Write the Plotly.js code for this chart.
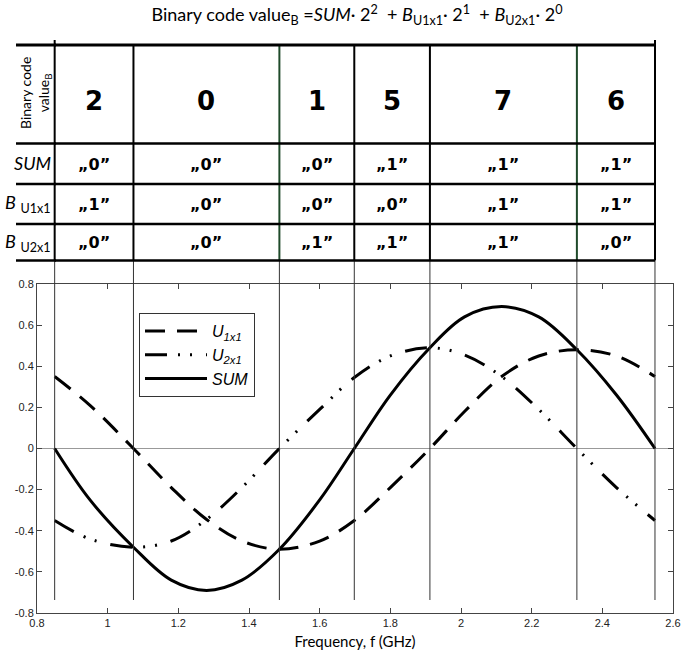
<!DOCTYPE html>
<html>
<head>
<meta charset="utf-8">
<script src="https://cdn.plot.ly/plotly-3.0.1.min.js"></script>
<style>html,body{margin:0;padding:0;background:#fff;}#chart{width:686px;height:655px;}</style>
</head>
<body>
<div id="chart"></div>
<script>
// ---- data ----
const freq = [0.85, 0.95, 1.073, 1.18, 1.28, 1.38, 1.486, 1.60, 1.698, 1.80, 1.912, 2.01, 2.115, 2.22, 2.328, 2.44, 2.549];
const u1x1 = [0.35, 0.21, 0.0, -0.19, -0.345, -0.45, -0.49, -0.45, -0.35, -0.19, 0.0, 0.18, 0.35, 0.45, 0.48, 0.45, 0.35];
const u2x1 = [-0.35, -0.44, -0.48, -0.45, -0.345, -0.19, 0.0, 0.19, 0.345, 0.45, 0.49, 0.455, 0.35, 0.19, 0.0, -0.19, -0.35];
const sumV = [0.0, -0.25, -0.48, -0.64, -0.69, -0.64, -0.49, -0.25, 0.0, 0.26, 0.49, 0.64, 0.69, 0.64, 0.48, 0.26, 0.0];

const boundaries = [0.85, 1.073, 1.486, 1.698, 1.912, 2.328, 2.549];
const greenBoundaries = [1.486, 2.328];
const codeValues = ['2', '0', '1', '5', '7', '6'];
const sumBits = ['0', '0', '0', '1', '1', '1'];
const u1Bits = ['1', '0', '0', '0', '1', '1'];
const u2Bits = ['0', '0', '1', '1', '1', '0'];
const rowLabels = ['<i>SUM</i>', '<i>B</i> <sub>U1x1</sub>', '<i>B</i> <sub>U2x1</sub>'];
const traceNames = ['<i>U</i><sub><i>1x1</i></sub>', '<i>U</i><sub><i>2x1</i></sub>', '<i>SUM</i>'];
const xTicks = [0.8, 1, 1.2, 1.4, 1.6, 1.8, 2, 2.2, 2.4, 2.6];
const xTickText = ['0.8', '1', '1.2', '1.4', '1.6', '1.8', '2', '2.2', '2.4', '2.6'];
const yTicks = [-0.8, -0.6, -0.4, -0.2, 0, 0.2, 0.4, 0.6, 0.8];
const yTickText = ['-0.8', '-0.6', '-0.4', '-0.2', '0', '0.2', '0.4', '0.6', '0.8'];

// ---- layout helpers (paper coordinates for the table) ----
const W = 686, H = 655;
const M = {l: 37, r: 13, t: 284, b: 42};
const plotH = H - M.t - M.b;
const plotW = W - M.l - M.r;
const py = Y => (H - M.b - Y) / plotH;   // pixel row -> paper y
const px = X => (X - M.l) / plotW;      // pixel col -> paper x

const tableTop = py(45), headBottom = py(143.5), sumBottom = py(184), u1Bottom = py(224), tableBottom = py(260.5);
const lineBottom = py(600);

const shapes = [];
boundaries.forEach((b, i) => {
  shapes.push({type: 'line', xref: 'x', yref: 'paper', x0: b, x1: b, y0: lineBottom, y1: tableBottom,
    line: {color: '#333', width: 1}});
  const outer = (i === 0 || i === boundaries.length - 1);
  const green = greenBoundaries.includes(b);
  shapes.push({type: 'line', xref: 'x', yref: 'paper', x0: b, x1: b, y0: tableBottom, y1: outer ? py(40) : tableTop,
    line: {color: green ? '#1f4a2a' : '#000', width: 2}});
});
[[tableTop, 3], [headBottom, 2.5], [sumBottom, 2.5], [u1Bottom, 2.5], [tableBottom, 2.5]].forEach(([y, w]) => {
  shapes.push({type: 'line', xref: 'paper', yref: 'paper', x0: px(16), x1: px(56), y0: y, y1: y, line: {color: '#000', width: w}});
  shapes.push({type: 'line', xref: 'x', yref: 'paper', x0: boundaries[0], x1: boundaries[boundaries.length - 1], y0: y, y1: y,
    line: {color: '#000', width: w}});
});

const annotations = [];
const mids = codeValues.map((_, i) => (boundaries[i] + boundaries[i + 1]) / 2);
codeValues.forEach((v, i) => {
  annotations.push({xref: 'x', yref: 'paper', x: mids[i], y: py(101), xanchor: 'center', yanchor: 'middle', text: v, showarrow: false,
    font: {family: 'DejaVu Sans', size: 26, color: '#000', weight: 'bold'}});
});
[[sumBits, 164], [u1Bits, 204], [u2Bits, 242.5]].forEach(([bits, yy]) => {
  bits.forEach((v, i) => {
    annotations.push({xref: 'x', yref: 'paper', x: mids[i], y: py(yy), xanchor: 'center', yanchor: 'middle',
      text: '\u201E' + v + '\u201D', showarrow: false,
      font: {family: 'DejaVu Sans', size: 16, color: '#000', weight: 'bold'}});
  });
});
rowLabels.forEach((t, i) => {
  annotations.push({xref: 'paper', yref: 'paper', x: px(53), y: py([163, 203, 242][i]), xanchor: 'right', yanchor: 'middle',
    text: t, showarrow: false, font: {family: 'Lato', size: 18, color: '#000'}});
});
annotations.push({xref: 'paper', yref: 'paper', x: px(35), y: py(93), xanchor: 'center', yanchor: 'middle',
  text: 'Binary code<br>value<sub>B</sub>', textangle: -90, showarrow: false,
  font: {family: 'Lato', size: 14, color: '#000'}});

const lineStyle = (dash) => ({color: '#000', width: 3, dash: dash, shape: 'spline', smoothing: 1});
const data = [
  {x: freq, y: u1x1, name: traceNames[0], type: 'scatter', mode: 'lines', line: lineStyle('20px,12px')},
  {x: freq, y: u2x1, name: traceNames[1], type: 'scatter', mode: 'lines', line: lineStyle('22px,11px,2px,10px,2px,14px')},
  {x: freq, y: sumV, name: traceNames[2], type: 'scatter', mode: 'lines', line: lineStyle('solid')}
];

const axisCommon = {showline: true, linecolor: '#444', linewidth: 1, mirror: 'ticks', ticks: 'inside', ticklen: 5,
  tickcolor: '#444', showgrid: false, tickfont: {family: 'Liberation Sans', size: 11, color: '#222'}};

const layout = {
  width: W, height: H, margin: M, paper_bgcolor: '#fff', plot_bgcolor: '#fff',
  title: {text: 'Binary code value<sub>B</sub> =<i>SUM</i>· 2<sup>2</sup>  + <i>B</i><sub>U1x1</sub>· 2<sup>1</sup>  + <i>B</i><sub>U2x1</sub>· 2<sup>0</sup>',
    x: 357 / W, xref: 'container', xanchor: 'center', y: 1 - 15 / H, yref: 'container', yanchor: 'middle',
    font: {family: 'Lato', size: 18, color: '#000'}},
  xaxis: Object.assign({}, axisCommon, {range: [0.8, 2.6], tickvals: xTicks, ticktext: xTickText, zeroline: false,
    title: {text: 'Frequency, f (GHz)', font: {family: 'Lato', size: 15, color: '#000'}, standoff: 8}}),
  yaxis: Object.assign({}, axisCommon, {range: [-0.8, 0.8], tickvals: yTicks, ticktext: yTickText,
    zeroline: true, zerolinecolor: '#999', zerolinewidth: 1}),
  showlegend: true,
  legend: {x: px(139), y: py(313), xanchor: 'left', yanchor: 'top', bgcolor: '#fff', bordercolor: '#333', borderwidth: 1,
    font: {family: 'Liberation Sans', size: 16, color: '#000'}, itemwidth: 62, tracegroupgap: 0},
  shapes: shapes, annotations: annotations
};

Plotly.newPlot('chart', data, layout, {displayModeBar: false, staticPlot: true});
</script>
</body>
</html>
